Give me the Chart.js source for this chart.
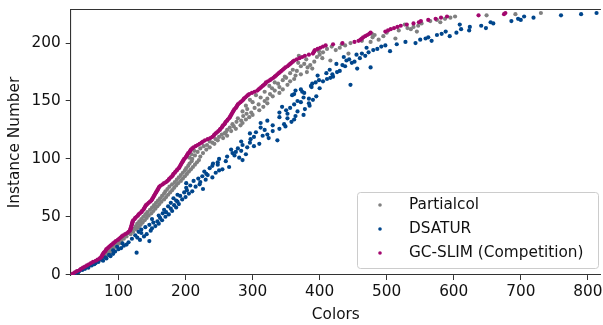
<!DOCTYPE html>
<html><head><meta charset="utf-8">
<script src="https://cdn.jsdelivr.net/npm/chart.js@4"></script>
<style>html,body{margin:0;padding:0;background:#fff}#wrap{width:603px;height:325px;position:relative}</style>
</head><body><div id="wrap"><canvas id="c" width="603" height="325"></canvas></div>
<script>
const seriesNames = ["Partialcol", "DSATUR", "GC-SLIM (Competition)"];
const seriesColors = ["#808080", "#00468c", "#a3076e"];
const xTicks = [100, 200, 300, 400, 500, 600, 700, 800];
const yTicks = [0, 50, 100, 150, 200];

// colors used per instance (array index = instance number)
const gcslim = [30,32,35,38,42,44,47,50,53,56,59,62,66,69,72,74,75,76,77,78,
80,81,82,84,86,88,90,92,94,96,99,101,103,105,107,110,113,115,117,118,
118,119,119,120,120,121,121,122,124,125,127,129,130,132,134,135,137,138,139,140,
141,143,145,147,149,150,151,152,153,154,155,156,157,158,159,160,161,163,166,168,
171,173,175,176,178,180,181,182,184,185,187,188,190,191,192,193,194,195,196,197,
198,200,201,202,203,204,206,207,208,210,212,215,218,221,224,226,229,233,237,240,
242,243,245,247,249,251,252,254,255,256,258,259,260,262,263,265,266,267,268,269,
270,271,272,273,275,276,277,278,280,282,284,286,287,289,291,293,295,299,303,307,
309,311,313,315,317,319,320,323,326,328,331,333,335,337,339,341,343,345,347,349,
352,354,356,358,360,362,366,370,374,378,384,390,391,392,393,397,401,405,409,420,
434,452,458,461,463,465,468,471,474,476,498,502,506,511,516,521,530,540,548,551,
562,573,581,590,637,675,677];

const partialcol = [31,34,36,40,43,47,50,52,57,59,63,65,70,73,76,80,78,84,82,87,
85,90,88,93,91,97,95,101,99,104,102,108,106,112,110,118,116,122,120,127,
124,130,126,133,128,136,131,139,134,142,137,145,140,149,143,152,147,155,150,158,
153,161,156,164,159,168,162,171,165,174,168,177,170,180,173,183,176,186,180,189,
184,193,187,196,190,199,193,202,196,205,199,208,201,211,204,214,206,217,209,220,
210,206,222,214,209,226,218,213,231,222,236,227,232,243,240,236,248,245,256,250,
262,254,258,260,268,262,275,266,272,282,270,285,276,283,290,278,295,286,300,291,
298,285,310,292,303,316,290,309,322,300,318,296,322,312,330,305,326,340,318,333,
345,329,340,325,352,338,333,356,345,362,350,348,364,372,356,381,366,360,389,382,
372,386,377,368,392,416,380,404,396,369,400,443,405,399,424,411,430,418,438,433,
446,476,463,488,513,479,495,482,478,500,545,518,536,531,540,547,527,552,580,565,
575,587,595,602,649,692,730];

const dsatur = [32,35,40,41,46,50,55,53,60,64,66,70,77,75,82,80,88,86,92,127,
95,92,100,104,98,108,112,106,115,146,132,120,128,138,125,142,134,130,148,134,
150,140,155,146,160,152,158,165,150,162,170,160,175,166,171,180,168,178,186,174,
183,190,178,188,186,195,182,200,192,188,205,198,210,202,226,201,215,207,221,201,
222,212,230,219,240,225,233,231,245,228,250,255,236,265,240,248,241,248,260,285,
250,280,262,273,290,270,275,283,268,278,292,302,285,310,296,283,337,297,324,302,
315,322,296,305,330,318,340,312,349,330,347,312,358,322,362,352,340,364,376,352,
340,367,350,378,356,344,385,362,384,372,367,390,384,376,395,359,362,377,374,364,
372,400,388,387,446,389,394,405,399,411,416,420,397,419,410,426,430,415,456,476,
438,434,425,448,452,440,444,460,436,468,455,463,473,505,480,486,470,492,498,515,
543,528,567,550,558,562,594,575,582,604,588,623,611,648,624,641,609,659,655,686,
700,696,719,705,760,790,813];

function pts(arr){ return arr.map((v,i)=>({x:v, y:i})); }
const seriesData = [partialcol, dsatur, gcslim];

const FONT = "'DejaVu Sans', sans-serif";
const FS = 15.3;

const extras = {
  id: 'extras',
  afterDraw(chart){
    const ctx = chart.ctx, a = chart.chartArea;
    ctx.save();
    ctx.strokeStyle = '#333'; ctx.lineWidth = 1.2;
    ctx.beginPath(); ctx.moveTo(a.left - 0.6, a.top - 0.5); ctx.lineTo(a.right, a.top - 0.5); ctx.stroke();
    const bx = 357.5, by = 192.5, bw = 241, bh = 76, r = 3;
    ctx.beginPath();
    ctx.moveTo(bx + r, by); ctx.lineTo(bx + bw - r, by); ctx.quadraticCurveTo(bx + bw, by, bx + bw, by + r);
    ctx.lineTo(bx + bw, by + bh - r); ctx.quadraticCurveTo(bx + bw, by + bh, bx + bw - r, by + bh);
    ctx.lineTo(bx + r, by + bh); ctx.quadraticCurveTo(bx, by + bh, bx, by + bh - r);
    ctx.lineTo(bx, by + r); ctx.quadraticCurveTo(bx, by, bx + r, by);
    ctx.closePath();
    ctx.fillStyle = 'rgba(255,255,255,0.8)'; ctx.fill();
    ctx.strokeStyle = '#cccccc'; ctx.lineWidth = 1; ctx.stroke();
    const rows = [205, 229, 253];
    ctx.font = FS + "px " + FONT; ctx.textBaseline = 'middle'; ctx.textAlign = 'left';
    for (let i = 0; i < seriesNames.length; i++){
      ctx.fillStyle = seriesColors[i];
      ctx.beginPath(); ctx.arc(380, rows[i], 1.8, 0, Math.PI*2); ctx.fill();
      ctx.fillStyle = '#111';
      ctx.fillText(seriesNames[i], 409, rows[i] + 0.5);
    }
    ctx.restore();
  }
};

new Chart(document.getElementById('c'), {
  type: 'scatter',
  data: {
    datasets: seriesData.map((d, i) => ({
      label: seriesNames[i],
      data: pts(d),
      backgroundColor: seriesColors[i],
      borderWidth: 0,
      pointRadius: 2.1,
      pointHoverRadius: 2.1,
      order: 3 - i
    }))
  },
  options: {
    responsive: false,
    animation: false,
    devicePixelRatio: 1,
    layout: { padding: { top: 10, right: 0, left: 0, bottom: 0 } },
    plugins: { legend: { display: false }, tooltip: { enabled: false } },
    scales: {
      x: {
        type: 'linear', min: 28.7, max: 819.5,
        afterBuildTicks(s){ s.ticks = xTicks.map(v => ({value: v})); },
        afterFit(s){ s.height = 50; s.paddingLeft = 0; s.paddingRight = 0; s.paddingTop = 0; s.paddingBottom = 0; },
        grid: { display: true, drawOnChartArea: false, drawTicks: true, tickLength: 5, color: '#333', lineWidth: 1 },
        border: { display: true, color: '#333', width: 1.1 },
        ticks: { color: '#111', font: { family: FONT, size: FS }, padding: 3, maxRotation: 0 },
        title: { display: true, text: 'Colors', color: '#111', font: { family: FONT, size: FS }, padding: { top: 0, bottom: 1 } }
      },
      y: {
        type: 'linear', min: -0.3, max: 228.6,
        afterBuildTicks(s){ s.ticks = yTicks.map(v => ({value: v})); },
        afterFit(s){ s.width = 70.7; s.paddingTop = 0; s.paddingBottom = 0; s.paddingLeft = 0; s.paddingRight = 0; },
        grid: { display: true, drawOnChartArea: false, drawTicks: true, tickLength: 5, color: '#333', lineWidth: 1 },
        border: { display: true, color: '#333', width: 1.1 },
        ticks: { color: '#111', font: { family: FONT, size: FS }, padding: 5 },
        title: { display: true, text: 'Instance Number', color: '#111', font: { family: FONT, size: FS }, padding: { top: 6, bottom: 0 } }
      }
    }
  },
  plugins: [extras]
});
</script>
</body></html>
